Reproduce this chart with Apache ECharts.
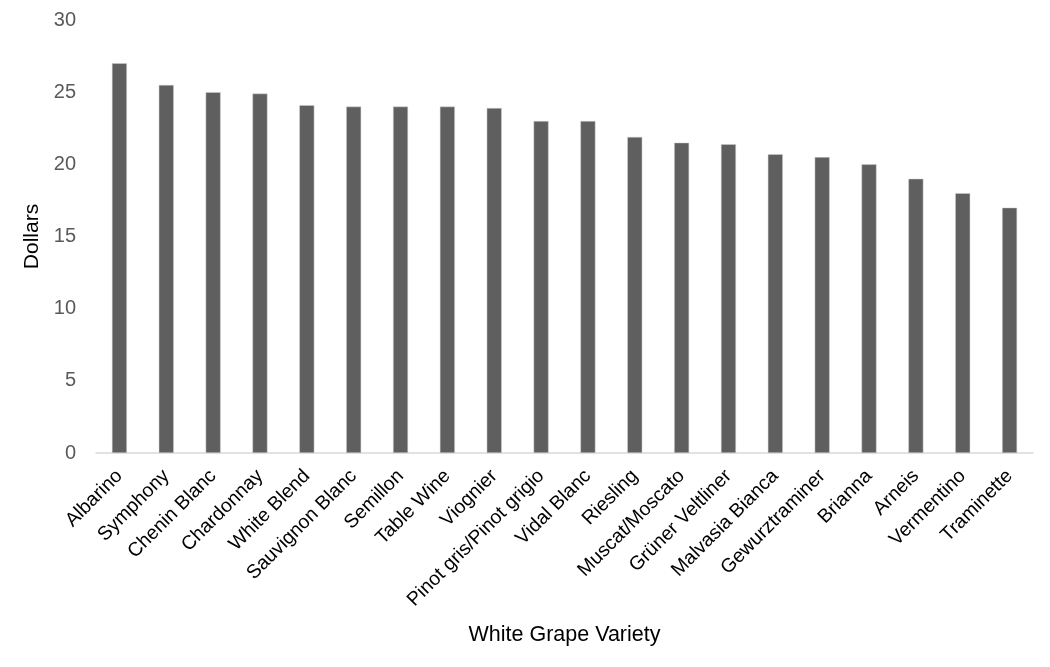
<!DOCTYPE html>
<html>
<head>
<meta charset="utf-8">
<script src="https://cdn.jsdelivr.net/npm/echarts@6/dist/echarts.min.js"></script>
<style>
  html, body { margin: 0; padding: 0; background: #fff; }
  #main { width: 1050px; height: 667px; }
</style>
</head>
<body>
<div id="main"></div>
<script>
var varieties = ['Albarino', 'Symphony', 'Chenin Blanc', 'Chardonnay', 'White Blend',
  'Sauvignon Blanc', 'Semillon', 'Table Wine', 'Viognier', 'Pinot gris/Pinot grigio',
  'Vidal Blanc', 'Riesling', 'Muscat/Moscato', 'Grüner Veltliner', 'Malvasia Bianca',
  'Gewurztraminer', 'Brianna', 'Arneis', 'Vermentino', 'Traminette'];
var dollars = [27, 25.5, 25, 24.9, 24.1, 24, 24, 24, 23.9, 23, 23, 21.9, 21.5, 21.4,
  20.7, 20.5, 20, 19, 18, 17];

var font = 'Liberation Sans';
var chartDom = document.getElementById('main');
var myChart = echarts.init(chartDom);

var option = {
  animation: false,
  grid: { left: 96, right: 17, top: 20, bottom: 214, containLabel: false },
  xAxis: {
    type: 'category',
    data: varieties,
    name: 'White Grape Variety',
    nameLocation: 'middle',
    nameGap: 171,
    nameTextStyle: { fontFamily: font, fontSize: 21.5, color: '#000' },
    axisLine: { lineStyle: { color: '#d9d9d9', width: 1.5 } },
    axisTick: { show: false },
    axisLabel: {
      rotate: 45,
      interval: 0,
      margin: 20,
      fontFamily: font,
      fontSize: 19.5,
      color: '#000'
    }
  },
  yAxis: {
    type: 'value',
    min: 0,
    max: 30,
    interval: 5,
    name: 'Dollars',
    nameLocation: 'middle',
    nameGap: 52,
    nameTextStyle: { fontFamily: font, fontSize: 21, color: '#000' },
    axisLine: { show: false },
    axisTick: { show: false },
    splitLine: { show: false },
    axisLabel: { fontFamily: font, fontSize: 20, color: '#595959', margin: 20 }
  },
  series: [
    {
      type: 'bar',
      data: dollars,
      barWidth: 15,
      itemStyle: { color: '#5f5f5f', borderColor: '#d0d0d0', borderWidth: 0.5 }
    }
  ]
};

myChart.setOption(option);
</script>
</body>
</html>
